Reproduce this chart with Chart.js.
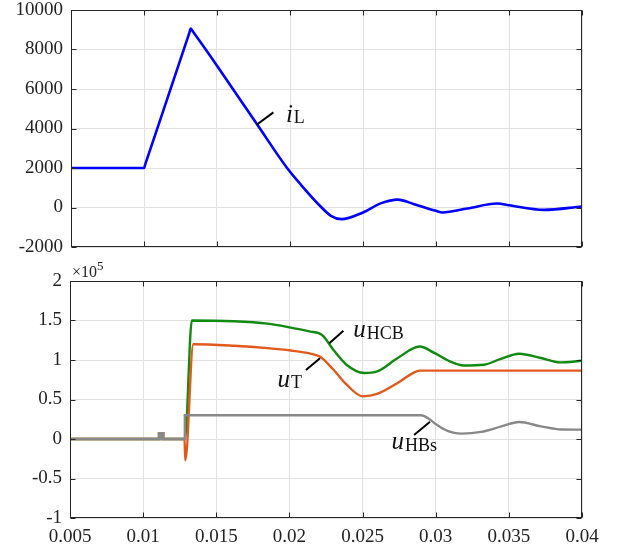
<!DOCTYPE html>
<html>
<head>
<meta charset="utf-8">
<title>iL / uHCB / uT / uHBs</title>
<script src="https://cdn.jsdelivr.net/npm/chart.js@4.4.0/dist/chart.umd.min.js"></script>
<style>
    body { margin: 0; background: #fff; }
    #wrap { position: relative; width: 621px; height: 551px; }
    #top-chart { position: absolute; left: 0; top: 0; }
    #bottom-chart { position: absolute; left: 0; top: 262px; }
</style>
</head>
<body>
<div id="wrap">
    <canvas id="top-chart" width="621" height="262"></canvas>
    <canvas id="bottom-chart" width="621" height="289"></canvas>
</div>
<script>
// inductor current iL (A)
const iLTime = [0.005, 0.0100, 0.0101, 0.0131, 0.0132, 0.0133, 0.0150, 0.0178, 0.0198, 0.02075, 0.0221, 0.0228, 0.02352,
    0.0250, 0.02621, 0.02737, 0.0285, 0.0300, 0.03044, 0.03215, 0.0342, 0.0350, 0.0374, 0.0400];
const iLValues = [2000, 2000, 2220, 8830, 9060, 8960, 7180, 4150, 2000, 1150, 50, -420, -590,
    -250, 210, 400, 170, -170, -250, -50, 200, 110, -120, 50];

// voltages, x10^5 V
const uHCBTime = [0.005, 0.01286, 0.01333, 0.0162, 0.0185, 0.0201, 0.02144, 0.0220, 0.02233, 0.0230, 0.0239, 0.0251,
    0.0260, 0.0274, 0.0289, 0.0299, 0.0310, 0.0319, 0.0333, 0.0344, 0.0357, 0.0372, 0.0385, 0.0400];
const uHCBValues = [0, 0, 1.5, 1.49, 1.46, 1.41, 1.36, 1.34, 1.3, 1.13, 0.94, 0.835,
    0.855, 1.025, 1.17, 1.09, 0.98, 0.93, 0.94, 1.01, 1.08, 1.025, 0.97, 0.99];

const uTTime = [0.005, 0.01108, 0.01108, 0.01138, 0.01138, 0.01283, 0.01288, 0.01343, 0.0162, 0.0185, 0.0201, 0.02144,
    0.0221, 0.0230, 0.0239, 0.0250, 0.0260, 0.0274, 0.0285, 0.0289, 0.0400];
const uTValues = [0, 0, 0.075, 0.075, 0, 0, -0.27, 1.2, 1.18, 1.15, 1.12, 1.08,
    1.04, 0.88, 0.69, 0.54, 0.57, 0.71, 0.84, 0.865, 0.865];

// the short burst near 0.011 s
const uHBsTime = [0.005, 0.01108, 0.01108, 0.01118, 0.01118, 0.01128, 0.01128, 0.01138, 0.01138, 0.01285, 0.01285,
    0.0290, 0.0295, 0.0300, 0.0306, 0.0312, 0.0318, 0.0331, 0.0345, 0.0357, 0.0372, 0.0386, 0.0400];
const uHBsValues = [0, 0, 0.075, 0.075, 0, 0, 0.075, 0.075, 0, 0, 0.30,
    0.30, 0.26, 0.19, 0.12, 0.08, 0.068, 0.09, 0.16, 0.215, 0.16, 0.12, 0.118];

const timeMin = 0.005, timeMax = 0.04, timeStep = 0.005;
const iLMin = -2000, iLMax = 10000, iLStep = 2000;
const uMin = -1, uMax = 2, uStep = 0.5;

const FONT = '"Liberation Serif", "Times New Roman", serif';
const AXIS_COLOR = '#262626';
const GRID_COLOR = '#e2e2e2';

function toPoints(xs, ys) {
    return xs.map((x, i) => ({ x: x, y: ys[i] }));
}

function fmt(v) {
    return String(+v.toFixed(4));
}

function drawName(ctx, x, y, main, sub) {
    ctx.fillStyle = '#111';
    ctx.textAlign = 'left';
    ctx.textBaseline = 'alphabetic';
    ctx.font = 'italic 25px ' + FONT;
    ctx.fillText(main, x, y);
    const w = ctx.measureText(main).width;
    ctx.font = '18px ' + FONT;
    ctx.fillText(sub, x + w + 1, y + 1.5);
}

// box round the plot area, MATLAB style inward ticks, curve names
const framePlugin = {
    id: 'frame',
    afterDraw(chart, args, opts) {
        const { ctx, chartArea: a, scales } = chart;
        const L = Math.round(a.left) + 0.5, R = Math.round(a.right) - 0.5;
        const T = Math.round(a.top) + 0.5, B = Math.round(a.bottom) - 0.5;
        ctx.save();
        ctx.strokeStyle = AXIS_COLOR;
        ctx.lineWidth = 1;
        ctx.beginPath();
        scales.x.ticks.forEach(t => {
            const px = Math.round(scales.x.getPixelForValue(t.value)) + 0.5;
            ctx.moveTo(px, B); ctx.lineTo(px, B - 5);
            ctx.moveTo(px, T); ctx.lineTo(px, T + 5);
        });
        scales.y.ticks.forEach(t => {
            const py = Math.round(scales.y.getPixelForValue(t.value)) + 0.5;
            ctx.moveTo(L, py); ctx.lineTo(L + 5, py);
            ctx.moveTo(R, py); ctx.lineTo(R - 5, py);
        });
        ctx.stroke();
        ctx.strokeRect(L, T, R - L, B - T);

        (opts.names || []).forEach(n => {
            ctx.strokeStyle = '#000';
            ctx.lineWidth = 2;
            ctx.beginPath();
            ctx.moveTo(scales.x.getPixelForValue(n.from[0]), scales.y.getPixelForValue(n.from[1]));
            ctx.lineTo(scales.x.getPixelForValue(n.to[0]), scales.y.getPixelForValue(n.to[1]));
            ctx.stroke();
            drawName(ctx, scales.x.getPixelForValue(n.at[0]), scales.y.getPixelForValue(n.at[1]), n.main, n.sub);
        });

        if (opts.exponent) {
            ctx.fillStyle = '#222';
            ctx.textBaseline = 'alphabetic';
            ctx.textAlign = 'left';
            ctx.font = '16px ' + FONT;
            ctx.fillText('\u00d710', a.left + 2, a.top - 4);
            const w = ctx.measureText('\u00d710').width;
            ctx.font = '13px ' + FONT;
            ctx.fillText('5', a.left + 2 + w, a.top - 11);
        }
        ctx.restore();
    }
};

function lineSet(label, xs, ys, color, width) {
    return {
        label: label,
        data: toPoints(xs, ys),
        borderColor: color,
        borderWidth: width,
        pointRadius: 0,
        fill: false,
        cubicInterpolationMode: 'monotone'
    };
}

function xScale(showLabels, height) {
    return {
        type: 'linear',
        min: timeMin,
        max: timeMax,
        border: { display: false },
        grid: { color: GRID_COLOR, drawTicks: false },
        ticks: {
            display: showLabels,
            stepSize: timeStep,
            padding: 8,
            color: '#222',
            font: { family: FONT, size: 19 },
            callback: v => fmt(v)
        },
        afterFit: scale => {
            scale.height = height;
            scale.paddingLeft = 0;
            scale.paddingRight = 0;
        }
    };
}

function yScale(min, max, step, width) {
    return {
        min: min,
        max: max,
        border: { display: false },
        grid: { color: GRID_COLOR, drawTicks: false },
        ticks: {
            stepSize: step,
            padding: 8,
            color: '#222',
            font: { family: FONT, size: 19 },
            callback: v => fmt(v)
        },
        afterFit: scale => {
            scale.width = width;
            scale.paddingTop = 0;
            scale.paddingBottom = 0;
        }
    };
}

const commonOptions = {
    responsive: false,
    animation: false,
    plugins: { legend: { display: false }, tooltip: { enabled: false } }
};

new Chart(document.getElementById('top-chart').getContext('2d'), {
    type: 'line',
    data: {
        datasets: [lineSet('iL', iLTime, iLValues, '#0000ff', 2.6)]
    },
    options: {
        ...commonOptions,
        layout: { padding: { top: 10, right: 39, left: 0, bottom: 0 } },
        scales: {
            x: xScale(false, 15),
            y: yScale(iLMin, iLMax, iLStep, 71)
        },
        plugins: {
            ...commonOptions.plugins,
            frame: {
                names: [
                    { main: 'i', sub: 'L', from: [0.01772, 4193], to: [0.01886, 4815], at: [0.01972, 4330] }
                ]
            }
        }
    },
    plugins: [framePlugin]
});

new Chart(document.getElementById('bottom-chart').getContext('2d'), {
    type: 'line',
    data: {
        // first dataset is painted last (on top)
        datasets: [
            lineSet('uHBs', uHBsTime, uHBsValues, '#888888', 2.4),
            lineSet('uT', uTTime, uTValues, '#e2591c', 2.4),
            lineSet('uHCB', uHCBTime, uHCBValues, '#118a11', 2.4)
        ]
    },
    options: {
        ...commonOptions,
        layout: { padding: { top: 19, right: 39, left: 0, bottom: 0 } },
        scales: {
            x: xScale(true, 33),
            y: yScale(uMin, uMax, uStep, 70)
        },
        plugins: {
            ...commonOptions.plugins,
            frame: {
                exponent: true,
                names: [
                    { main: 'u', sub: 'HCB', from: [0.02273, 1.211], to: [0.02369, 1.371], at: [0.02437, 1.285] },
                    { main: 'u', sub: 'T', from: [0.02113, 0.873], to: [0.02209, 1.022], at: [0.01918, 0.66] },
                    { main: 'u', sub: 'HBs', from: [0.02852, 0.051], to: [0.02961, 0.219], at: [0.02698, -0.13] }
                ]
            }
        }
    },
    plugins: [framePlugin]
});
</script>
</body>
</html>
